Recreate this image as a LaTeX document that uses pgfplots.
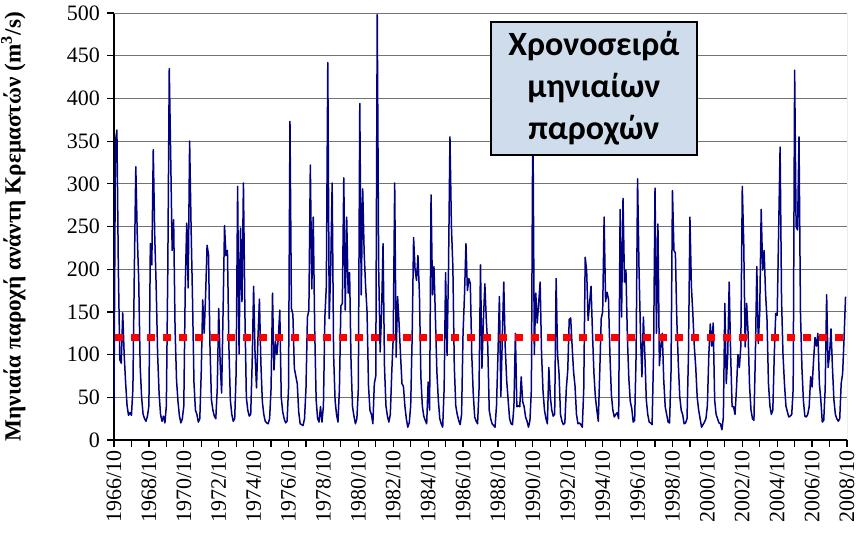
\documentclass[border=0pt]{standalone}
\usepackage{pgfplots}
\pgfplotsset{compat=1.18}
\usepackage{fontspec}
\setmainfont{Liberation Serif}
\newfontfamily\boxfont{Carlito}
\definecolor{navy}{RGB}{0,0,128}
\definecolor{boxfill}{RGB}{207,220,235}
\begin{document}
\begin{tikzpicture}
\useasboundingbox (-57pt,-48.5pt) rectangle (372.5pt,220pt);
\begin{axis}[
  at={(0,0)}, anchor=south west,
  scale only axis, width=366.5pt, height=213.5pt,
  xmin=0, xmax=504, ymin=0, ymax=500,
  axis x line*=bottom, axis y line*=left,
  axis line style={black, line width=0.7pt, -},
  tick align=outside,
  tick style={black, line width=0.6pt},
  major tick length=3.5pt,
  xtick={0,12,...,504},
  xticklabels={1966/10,,1968/10,,1970/10,,1972/10,,1974/10,,1976/10,,1978/10,,1980/10,,1982/10,,1984/10,,1986/10,,1988/10,,1990/10,,1992/10,,1994/10,,1996/10,,1998/10,,2000/10,,2002/10,,2004/10,,2006/10,,2008/10},
  xticklabel style={rotate=90, anchor=east, font=\fontsize{11}{13}\selectfont, inner sep=1.5pt},
  ytick={0,50,...,500},
  yticklabel style={font=\fontsize{11}{13}\selectfont, /pgf/number format/assume math mode=true},
  ymajorgrids,
  grid style={black!55, line width=0.5pt},
  ylabel={\bfseries Μηνιαία παροχή ανάντη Κρεμαστών (m$^{\mathbf{3}}$/s)},
  ylabel style={at={(rel axis cs:0,0.5)}, yshift=44pt, anchor=south, inner sep=0pt, font=\fontsize{11.6}{13}\selectfont},
]
\addplot[navy, line width=0.75pt, line join=round] coordinates {
(0,45)(1,350)(2,363)(3,200)(4,94)(5,90)(6,149)(7,100)(8,67)(9,40)(10,29)(11,32)
(12,29)(13,60)(14,200)(15,320)(16,240)(17,187)(18,86)(19,50)(20,30)(21,25)(22,22)(23,28)
(24,40)(25,230)(26,205)(27,340)(28,240)(29,180)(30,100)(31,55)(32,30)(33,22)(34,28)(35,20)
(36,40)(37,200)(38,435)(39,330)(40,222)(41,258)(42,130)(43,70)(44,45)(45,28)(46,20)(47,25)
(48,40)(49,180)(50,254)(51,178)(52,350)(53,250)(54,164)(55,67)(56,35)(57,30)(58,21)(59,25)
(60,80)(61,164)(62,125)(63,170)(64,228)(65,217)(66,110)(67,47)(68,35)(69,28)(70,25)(71,60)
(72,154)(73,90)(74,55)(75,150)(76,251)(77,216)(78,222)(79,110)(80,47)(81,30)(82,22)(83,25)
(84,80)(85,297)(86,101)(87,248)(88,162)(89,301)(90,150)(91,50)(92,35)(93,28)(94,30)(95,90)
(96,180)(97,100)(98,61)(99,120)(100,165)(101,90)(102,45)(103,30)(104,22)(105,20)(106,19)(107,25)
(108,60)(109,172)(110,82)(111,115)(112,100)(113,120)(114,152)(115,50)(116,33)(117,25)(118,20)(119,22)
(120,60)(121,373)(122,154)(123,147)(124,84)(125,75)(126,66)(127,33)(128,19)(129,18)(130,17)(131,25)
(132,60)(133,144)(134,152)(135,322)(136,177)(137,261)(138,130)(139,47)(140,25)(141,21)(142,39)(143,21)
(144,40)(145,144)(146,180)(147,442)(148,142)(149,200)(150,301)(151,100)(152,47)(153,30)(154,21)(155,60)
(156,157)(157,160)(158,307)(159,152)(160,261)(161,172)(162,196)(163,90)(164,39)(165,28)(166,19)(167,25)
(168,60)(169,394)(170,170)(171,294)(172,220)(173,180)(174,150)(175,63)(176,35)(177,30)(178,19)(179,66)
(180,75)(181,498)(182,200)(183,103)(184,150)(185,230)(186,85)(187,40)(188,28)(189,21)(190,30)(191,80)
(192,120)(193,301)(194,97)(195,168)(196,137)(197,100)(198,66)(199,63)(200,40)(201,25)(202,15)(203,20)
(204,40)(205,120)(206,237)(207,200)(208,187)(209,216)(210,172)(211,74)(212,40)(213,28)(214,23)(215,19)
(216,68)(217,35)(218,287)(219,170)(220,203)(221,144)(222,80)(223,47)(224,25)(225,19)(226,15)(227,60)
(228,196)(229,99)(230,200)(231,355)(232,250)(233,203)(234,85)(235,40)(236,30)(237,23)(238,18)(239,30)
(240,125)(241,170)(242,230)(243,175)(244,189)(245,183)(246,100)(247,55)(248,27)(249,22)(250,19)(251,60)
(252,205)(253,84)(254,140)(255,183)(256,140)(257,110)(258,35)(259,25)(260,19)(261,17)(262,15)(263,40)
(264,100)(265,168)(266,51)(267,120)(268,185)(269,109)(270,70)(271,47)(272,25)(273,19)(274,18)(275,40)
(276,125)(277,39)(278,40)(279,39)(280,74)(281,45)(282,39)(283,27)(284,22)(285,15)(286,23)(287,60)
(288,390)(289,100)(290,172)(291,137)(292,160)(293,185)(294,100)(295,57)(296,35)(297,25)(298,19)(299,85)
(300,51)(301,35)(302,28)(303,30)(304,189)(305,100)(306,78)(307,30)(308,22)(309,18)(310,20)(311,60)
(312,82)(313,141)(314,143)(315,110)(316,80)(317,63)(318,30)(319,19)(320,20)(321,18)(322,15)(323,60)
(324,214)(325,198)(326,140)(327,160)(328,180)(329,125)(330,78)(331,50)(332,35)(333,22)(334,80)(335,142)
(336,150)(337,261)(338,162)(339,173)(340,165)(341,100)(342,53)(343,35)(344,27)(345,30)(346,32)(347,25)
(348,270)(349,144)(350,283)(351,185)(352,199)(353,120)(354,72)(355,45)(356,37)(357,21)(358,23)(359,100)
(360,306)(361,200)(362,125)(363,74)(364,144)(365,100)(366,47)(367,30)(368,21)(369,20)(370,18)(371,100)
(372,295)(373,125)(374,253)(375,87)(376,110)(377,125)(378,70)(379,39)(380,30)(381,21)(382,20)(383,80)
(384,292)(385,222)(386,219)(387,140)(388,90)(389,51)(390,35)(391,30)(392,19)(393,20)(394,25)(395,100)
(396,261)(397,180)(398,148)(399,110)(400,85)(401,50)(402,35)(403,25)(404,15)(405,18)(406,21)(407,25)
(408,40)(409,100)(410,136)(411,110)(412,137)(413,47)(414,30)(415,25)(416,20)(417,19)(418,12)(419,27)
(420,160)(421,66)(422,100)(423,185)(424,100)(425,39)(426,39)(427,30)(428,60)(429,100)(430,85)(431,110)
(432,297)(433,230)(434,109)(435,160)(436,125)(437,63)(438,35)(439,25)(440,23)(441,100)(442,203)(443,113)
(444,150)(445,270)(446,199)(447,222)(448,172)(449,141)(450,66)(451,40)(452,30)(453,35)(454,100)(455,148)
(456,146)(457,245)(458,343)(459,164)(460,100)(461,66)(462,40)(463,33)(464,27)(465,28)(466,30)(467,60)
(468,433)(469,250)(470,246)(471,355)(472,150)(473,85)(474,47)(475,28)(476,27)(477,30)(478,39)(479,74)
(480,62)(481,93)(482,120)(483,110)(484,125)(485,66)(486,47)(487,21)(488,23)(489,60)(490,170)(491,85)
(492,100)(493,130)(494,85)(495,47)(496,30)(497,25)(498,22)(499,25)(500,66)(501,78)(502,120)(503,168)
};
\addplot[red, line width=3.4pt, dash pattern=on 4pt off 4pt] coordinates {(0.7,120) (504,120)};
\draw[black!55, line width=0.5pt] (rel axis cs:0,1) -- (rel axis cs:1,1) -- (rel axis cs:1,0);
\node[draw=black, line width=0.9pt, fill=boxfill, minimum width=103pt, minimum height=66.5pt,
      align=center, inner sep=0pt, font=\boxfont\bfseries\fontsize{17}{21}\selectfont]
  at (axis cs:330,411.6) {Χρονοσειρά\\μηνιαίων\\παροχών};
\end{axis}
\end{tikzpicture}
\end{document}
